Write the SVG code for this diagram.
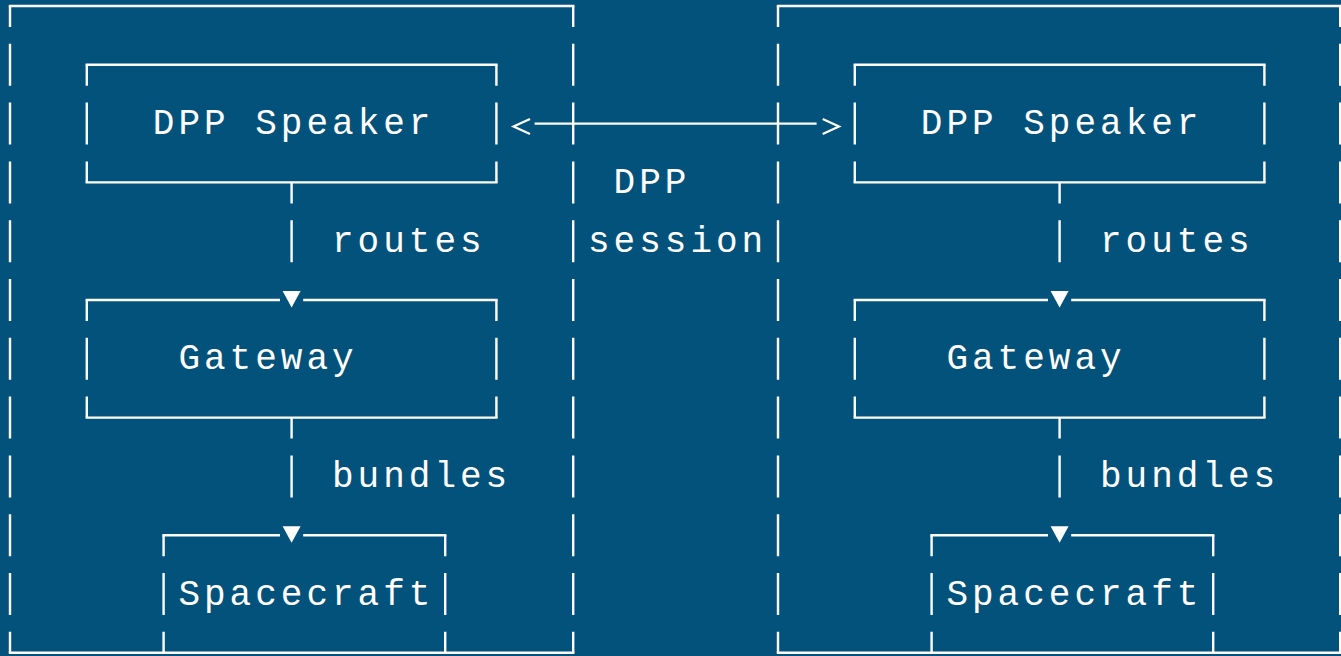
<svg xmlns="http://www.w3.org/2000/svg" width="1341" height="656" viewBox="0 0 1341 656">
  <defs>
    <style>
      .bg { fill: #03527c; }
      .h { fill: none; stroke: #ffffff; stroke-width: 2.4; stroke-linecap: square; }
      .v { fill: none; stroke: #ffffff; stroke-width: 2.4; stroke-dasharray: 42 16.8; stroke-dashoffset: 21; }
      .head { fill: #ffffff; stroke: none; }
      .chev { fill: none; stroke: #ffffff; stroke-width: 2.2; stroke-linejoin: miter; }
      .t { font-family: "Liberation Mono", "DejaVu Sans Mono", monospace; font-size: 36px; letter-spacing: 4px; fill: #ffffff; }
    </style>
  </defs>

  <rect class="bg" x="0" y="0" width="1341" height="656"/>

  <!-- Grid: column n at x = 10 + 25.6n, row m at y = 6 + 58.8m -->

  <!-- Left outer frame -->
  <g id="frame-left">
    <path class="h" d="M10 6 H573.2 M10 652.8 H573.2"/>
    <path class="v" d="M10 6 V652.8 M573.2 6 V652.8"/>
  </g>

  <!-- Right outer frame -->
  <g id="frame-right">
    <path class="h" d="M778 6 H1340.2 M778 652.8 H1340.2"/>
    <path class="v" d="M778 6 V652.8 M1340.2 6 V652.8"/>
  </g>

  <!-- Left stack -->
  <g id="speaker-left">
    <path class="h" d="M86.8 64.8 H496.4 M86.8 182.4 H496.4"/>
    <path class="v" d="M86.8 64.8 V182.4 M496.4 64.8 V182.4"/>
    <text class="t" x="152.8" y="134.1">DPP Speaker</text>
  </g>

  <g id="gateway-left">
    <path class="h" d="M86.8 300 H278.8 M304.4 300 H496.4 M86.8 417.6 H496.4"/>
    <path class="v" d="M86.8 300 V417.6 M496.4 300 V417.6"/>
    <text class="t" x="178.4" y="369.3">Gateway</text>
  </g>

  <g id="spacecraft-left">
    <path class="h" d="M163.6 535.2 H278.8 M304.4 535.2 H445.2"/>
    <path class="v" d="M163.6 535.2 V652.8 M445.2 535.2 V652.8"/>
    <text class="t" x="178.4" y="604.5">Spacecraft</text>
  </g>

  <!-- Right stack -->
  <g id="speaker-right">
    <path class="h" d="M854.8 64.8 H1264.4 M854.8 182.4 H1264.4"/>
    <path class="v" d="M854.8 64.8 V182.4 M1264.4 64.8 V182.4"/>
    <text class="t" x="920.8" y="134.1">DPP Speaker</text>
  </g>

  <g id="gateway-right">
    <path class="h" d="M854.8 300 H1046.8 M1072.4 300 H1264.4 M854.8 417.6 H1264.4"/>
    <path class="v" d="M854.8 300 V417.6 M1264.4 300 V417.6"/>
    <text class="t" x="946.4" y="369.3">Gateway</text>
  </g>

  <g id="spacecraft-right">
    <path class="h" d="M931.6 535.2 H1046.8 M1072.4 535.2 H1213.2"/>
    <path class="v" d="M931.6 535.2 V652.8 M1213.2 535.2 V652.8"/>
    <text class="t" x="946.4" y="604.5">Spacecraft</text>
  </g>

  <!-- Connectors -->
  <g id="connectors">
    <!-- routes: speaker to gateway -->
    <path class="v" d="M291.6 182.4 V262.2 M1059.6 182.4 V262.2"/>
    <polygon class="head" points="282.6,291 300.6,291 291.6,307.5"/>
    <polygon class="head" points="1050.6,291 1068.6,291 1059.6,307.5"/>
    <text class="t" x="332" y="251.7">routes</text>
    <text class="t" x="1100" y="251.7">routes</text>

    <!-- bundles: gateway to spacecraft -->
    <path class="v" d="M291.6 417.6 V497.4 M1059.6 417.6 V497.4"/>
    <polygon class="head" points="282.6,526.2 300.6,526.2 291.6,542.7"/>
    <polygon class="head" points="1050.6,526.2 1068.6,526.2 1059.6,542.7"/>
    <text class="t" x="332" y="486.9">bundles</text>
    <text class="t" x="1100" y="486.9">bundles</text>

    <!-- DPP session between the two speakers -->
    <path class="h" d="M535.8 123.6 H815.4"/>
    <polyline class="chev" points="530,119 513.5,126.5 530,134"/>
    <polyline class="chev" points="822.7,119 839,126.5 822.7,134"/>
    <text class="t" x="613.6" y="192.9">DPP</text>
    <text class="t" x="588" y="251.7">session</text>
  </g>
</svg>
